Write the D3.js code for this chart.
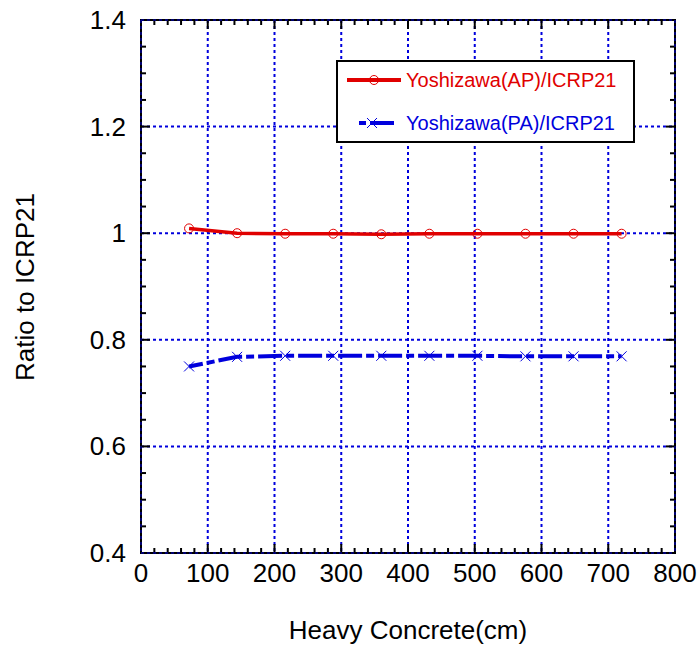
<!DOCTYPE html>
<html><head><meta charset="utf-8">
<script src="https://cdn.jsdelivr.net/npm/d3@7"></script>
<style>body{margin:0;background:#fff}text{font-family:"Liberation Sans",Arial,sans-serif}</style>
</head><body>
<script>
const thickness = [72, 144, 216, 288, 360, 432, 504, 576, 648, 720];
const ratioAP = [1.009, 1.000, 0.999, 0.999, 0.998, 0.999, 0.999, 0.999, 0.999, 0.999];
const ratioPA = [0.750, 0.768, 0.770, 0.770, 0.770, 0.770, 0.770, 0.769, 0.769, 0.769];
const xTicks = [0, 100, 200, 300, 400, 500, 600, 700, 800];
const yTicks = [0.4, 0.6, 0.8, 1.0, 1.2, 1.4];
const yTickLabels = ["0.4", "0.6", "0.8", "1", "1.2", "1.4"];
const seriesNames = ["Yoshizawa(AP)/ICRP21", "Yoshizawa(PA)/ICRP21"];

const W = 699, H = 651;
const L = 141, R = 675, T = 20, B = 553;
const svg = d3.select("body").append("svg").attr("width", W).attr("height", H);
const x = d3.scaleLinear().domain([0, 800]).range([L, R]);
const y = d3.scaleLinear().domain([0.4, 1.4]).range([B, T]);
const red = "#e00000", blue = "#0000dd";

// grid
const g = svg.append("g");
g.selectAll(".gx").data(xTicks).enter().append("line")
  .attr("x1", d => x(d)).attr("x2", d => x(d)).attr("y1", T).attr("y2", B)
  .attr("stroke", blue).attr("stroke-width", 2).attr("stroke-dasharray", "3,3");
g.selectAll(".gy").data(yTicks).enter().append("line")
  .attr("y1", d => y(d)).attr("y2", d => y(d)).attr("x1", L).attr("x2", R)
  .attr("stroke", blue).attr("stroke-width", 2).attr("stroke-dasharray", "3,3");

// ticks (inward, all sides)
const xMinor = d3.range(0, 801, 20).filter(v => v % 100 !== 0);
const yMinor = d3.range(0, 21).map(i => 0.4 + i * 0.05).filter((v, i) => i % 4 !== 0);
const tk = svg.append("g").attr("stroke", "#000").attr("stroke-width", 2);
xTicks.forEach(v => {
  tk.append("line").attr("x1", x(v)).attr("x2", x(v)).attr("y1", B).attr("y2", B - 9);
  tk.append("line").attr("x1", x(v)).attr("x2", x(v)).attr("y1", T).attr("y2", T + 9);
});
xMinor.forEach(v => {
  tk.append("line").attr("x1", x(v)).attr("x2", x(v)).attr("y1", B).attr("y2", B - 5);
  tk.append("line").attr("x1", x(v)).attr("x2", x(v)).attr("y1", T).attr("y2", T + 5);
});
yTicks.forEach(v => {
  tk.append("line").attr("y1", y(v)).attr("y2", y(v)).attr("x1", L).attr("x2", L + 9);
  tk.append("line").attr("y1", y(v)).attr("y2", y(v)).attr("x1", R).attr("x2", R - 9);
});
yMinor.forEach(v => {
  tk.append("line").attr("y1", y(v)).attr("y2", y(v)).attr("x1", L).attr("x2", L + 5);
  tk.append("line").attr("y1", y(v)).attr("y2", y(v)).attr("x1", R).attr("x2", R - 5);
});
svg.append("rect").attr("x", L).attr("y", T).attr("width", R - L).attr("height", B - T)
  .attr("fill", "none").attr("stroke", "#000").attr("stroke-width", 2);
[[L, T, L, B], [R, T, R, B], [L, T, R, T], [L, B, R, B]].forEach(c => {
  svg.append("line").attr("x1", c[0]).attr("y1", c[1]).attr("x2", c[2]).attr("y2", c[3])
    .attr("stroke", blue).attr("stroke-width", 1).attr("stroke-dasharray", "3,3");
});

// tick labels
svg.append("g").selectAll("text").data(xTicks).enter().append("text")
  .attr("x", d => x(d)).attr("y", 582).attr("text-anchor", "middle")
  .attr("font-size", 26).text(d => d);
svg.append("g").selectAll("text").data(yTicks).enter().append("text")
  .attr("x", 126).attr("y", d => y(d) + 9).attr("text-anchor", "end")
  .attr("font-size", 26).text((d, i) => yTickLabels[i]);

// axis titles
svg.append("text").attr("x", 408).attr("y", 639).attr("text-anchor", "middle")
  .attr("font-size", 26).text("Heavy Concrete(cm)");
svg.append("text").attr("transform", "translate(34,287) rotate(-90)")
  .attr("text-anchor", "middle").attr("font-size", 26).text("Ratio to ICRP21");

// series
const line = d3.line().x(d => x(d[0])).y(d => y(d[1]));
const apData = thickness.map((t, i) => [t, ratioAP[i]]);
const paData = thickness.map((t, i) => [t, ratioPA[i]]);
svg.append("path").datum(apData).attr("d", line).attr("fill", "none")
  .attr("stroke", red).attr("stroke-width", 3.5);
svg.append("g").selectAll("circle").data(apData).enter().append("circle")
  .attr("cx", d => x(d[0])).attr("cy", d => y(d[1])).attr("r", 4.5)
  .attr("fill", "none").attr("stroke", red).attr("stroke-width", 1);
svg.append("path").datum(paData).attr("d", line).attr("fill", "none")
  .attr("stroke", blue).attr("stroke-width", 4).attr("stroke-dasharray", "24,4,8,4")
  .attr("stroke-dashoffset", -30);
const xm = (sel, s) => sel.each(function(d) {
  const cx = x(d[0]), cy = y(d[1]);
  d3.select(this).append("path")
    .attr("d", `M${cx - s},${cy - s}L${cx + s},${cy + s}M${cx - s},${cy + s}L${cx + s},${cy - s}`)
    .attr("stroke", blue).attr("stroke-width", 1).attr("fill", "none");
});
svg.append("g").selectAll("g").data(paData).enter().append("g").call(xm, 5);

// legend
const lg = svg.append("g");
lg.append("rect").attr("x", 337).attr("y", 61).attr("width", 297).attr("height", 81)
  .attr("fill", "#fff").attr("stroke", "#000").attr("stroke-width", 2);
lg.append("line").attr("x1", 347).attr("x2", 401).attr("y1", 80).attr("y2", 80)
  .attr("stroke", red).attr("stroke-width", 4);
lg.append("circle").attr("cx", 374).attr("cy", 80).attr("r", 4.5)
  .attr("fill", "none").attr("stroke", red).attr("stroke-width", 1);
lg.append("line").attr("x1", 359).attr("x2", 398).attr("y1", 123).attr("y2", 123)
  .attr("stroke", blue).attr("stroke-width", 4).attr("stroke-dasharray", "7,4,24,4");
lg.append("g").each(function() {
  const cx = 372, cy = 123, s = 5;
  d3.select(this).append("path")
    .attr("d", `M${cx - s},${cy - s}L${cx + s},${cy + s}M${cx - s},${cy + s}L${cx + s},${cy - s}`)
    .attr("stroke", blue).attr("stroke-width", 1);
});
lg.append("text").attr("x", 406).attr("y", 87).attr("font-size", 20).attr("fill", red).text(seriesNames[0]);
lg.append("text").attr("x", 406).attr("y", 130).attr("font-size", 20).attr("fill", blue).text(seriesNames[1]);
</script>
</body></html>
